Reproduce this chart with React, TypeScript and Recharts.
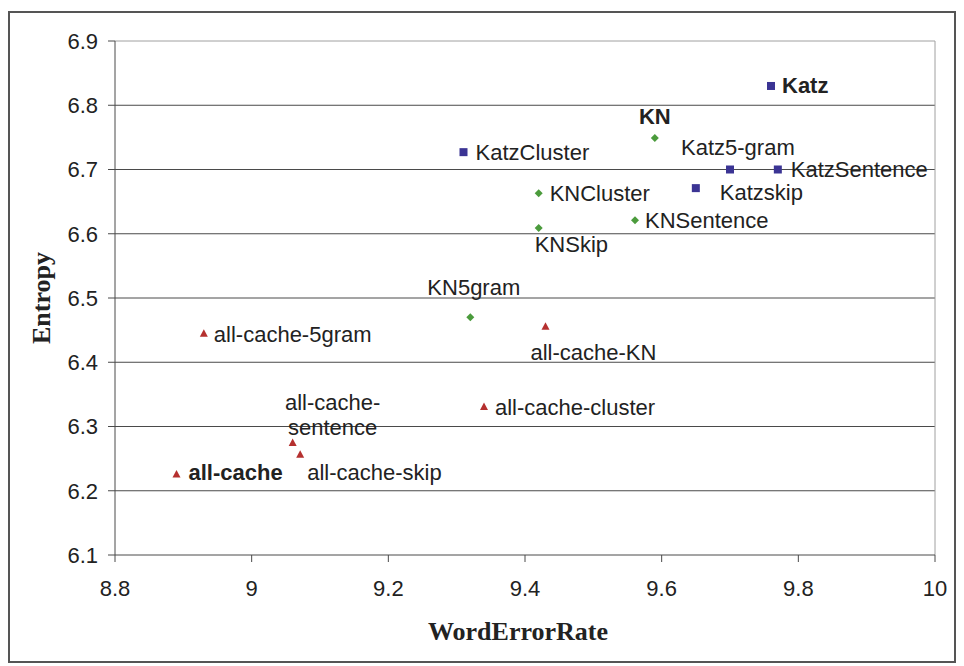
import React from "react";
import {
  CartesianGrid,
  Label,
  ReferenceLine,
  Scatter,
  ScatterChart,
  XAxis,
  YAxis,
} from "recharts";

// Katz-smoothed models
const katzNames = ["Katz", "KatzCluster", "Katz5-gram", "KatzSentence", "Katzskip"];
const katzWer = [9.76, 9.31, 9.7, 9.77, 9.65];
const katzEntropy = [6.83, 6.727, 6.7, 6.7, 6.671];

// Kneser-Ney models
const knNames = ["KN", "KNCluster", "KNSentence", "KNSkip", "KN5gram"];
const knWer = [9.59, 9.42, 9.561, 9.42, 9.32];
const knEntropy = [6.749, 6.663, 6.621, 6.609, 6.47];

// cache models
const cacheNames = [
  "all-cache",
  "all-cache-sentence",
  "all-cache-skip",
  "all-cache-5gram",
  "all-cache-KN",
  "all-cache-cluster",
];
const cacheWer = [8.89, 9.06, 9.071, 8.93, 9.43, 9.34];
const cacheEntropy = [6.226, 6.275, 6.257, 6.445, 6.456, 6.331];

const xTicks = [8.8, 9, 9.2, 9.4, 9.6, 9.8, 10];
const yTicks = [6.1, 6.2, 6.3, 6.4, 6.5, 6.6, 6.7, 6.8, 6.9];
const gridValues = [6.2, 6.3, 6.4, 6.5, 6.6, 6.7, 6.8];

const toPoints = (names: string[], xs: number[], ys: number[]) =>
  names.map((name, i) => ({ name, wer: xs[i], entropy: ys[i] }));

const katzData = toPoints(katzNames, katzWer, katzEntropy);
const knData = toPoints(knNames, knWer, knEntropy);
const cacheData = toPoints(cacheNames, cacheWer, cacheEntropy);

// where each point's label sits, relative to its marker (cap-centre offsets)
type Spot = {
  dx: number;
  dy: number;
  anchor?: "start" | "middle";
  bold?: boolean;
  lines?: string[];
};
const labelSpots: Record<string, Spot> = {
  Katz: { dx: 11, dy: -1, bold: true },
  KatzCluster: { dx: 12, dy: 0 },
  "Katz5-gram": { dx: -49, dy: -23 },
  KatzSentence: { dx: 13, dy: -1 },
  Katzskip: { dx: 24, dy: 4 },
  KN: { dx: 0, dy: -22, anchor: "middle", bold: true },
  KNCluster: { dx: 11, dy: 0 },
  KNSentence: { dx: 10, dy: 0 },
  KNSkip: { dx: -4, dy: 16 },
  KN5gram: { dx: -43, dy: -30 },
  "all-cache": { dx: 12, dy: -2, bold: true },
  "all-cache-sentence": {
    dx: 40,
    dy: -41,
    anchor: "middle",
    lines: ["all-cache-", "sentence"],
  },
  "all-cache-skip": { dx: 7, dy: 18 },
  "all-cache-5gram": { dx: 10, dy: 1 },
  "all-cache-KN": { dx: -15, dy: 26 },
  "all-cache-cluster": { dx: 11, dy: 0 },
};

const SANS = '"Liberation Sans", Arial, sans-serif';
const SERIF = '"Liberation Serif", "Times New Roman", serif';
const TEXT = "#222";

function PointLabel({ cx, cy, name }: { cx: number; cy: number; name: string }) {
  const s = labelSpots[name] ?? { dx: 10, dy: 0 };
  const lines = s.lines ?? [name];
  return (
    <text
      x={cx + s.dx}
      y={cy + s.dy + 8}
      textAnchor={s.anchor ?? "start"}
      fontFamily={SANS}
      fontSize={22}
      fontWeight={s.bold ? 700 : 400}
      fill={TEXT}
    >
      {lines.map((l, i) => (
        <tspan key={i} x={cx + s.dx} dy={i === 0 ? 0 : 25}>
          {l}
        </tspan>
      ))}
    </text>
  );
}

const squareShape = (p: any) => (
  <g>
    <rect x={p.cx - 4} y={p.cy - 4} width={8} height={8} fill="#3b3494" />
    <PointLabel cx={p.cx} cy={p.cy} name={p.payload.name} />
  </g>
);

const diamondShape = (p: any) => (
  <g>
    <path
      d={`M${p.cx},${p.cy - 4}L${p.cx + 4},${p.cy}L${p.cx},${p.cy + 4}L${p.cx - 4},${p.cy}Z`}
      fill="#4b9b3c"
    />
    <PointLabel cx={p.cx} cy={p.cy} name={p.payload.name} />
  </g>
);

const triangleShape = (p: any) => (
  <g>
    <path
      d={`M${p.cx},${p.cy - 4}L${p.cx + 4},${p.cy + 3.5}L${p.cx - 4},${p.cy + 3.5}Z`}
      fill="#b5302f"
    />
    <PointLabel cx={p.cx} cy={p.cy} name={p.payload.name} />
  </g>
);

export default function App() {
  return (
    <div
      style={{
        position: "absolute",
        left: 0,
        top: 0,
        width: 964,
        height: 666,
        background: "#fff",
      }}
    >
      <div
        style={{
          position: "absolute",
          left: 8,
          top: 11,
          width: 948,
          height: 652,
          border: "2px solid #555",
          boxSizing: "border-box",
        }}
      />
      <div style={{ position: "absolute", left: 0, top: 0 }}>
        <ScatterChart
          width={964}
          height={666}
          margin={{ top: 41, right: 29, left: 35, bottom: 21 }}
        >
          <CartesianGrid
            horizontal
            vertical={false}
            horizontalValues={gridValues}
            stroke="#4a4a4a"
            strokeWidth={1}
          />
          <ReferenceLine y={6.9} stroke="#a0a0a0" strokeWidth={1} />
          <ReferenceLine x={10} stroke="#a0a0a0" strokeWidth={1} />
          <XAxis
            type="number"
            dataKey="wer"
            domain={[8.8, 10]}
            ticks={xTicks}
            interval={0}
            height={90}
            stroke="#4a4a4a"
            tickSize={7}
            tickMargin={18}
            tick={{ fontSize: 22, fontFamily: SANS, fill: TEXT }}
          >
            <Label
              content={(props: any) => {
                const vb = props.viewBox || {};
                return (
                  <text
                    x={vb.x + vb.width / 2 - 7}
                    y={640}
                    textAnchor="middle"
                    fontFamily={SERIF}
                    fontWeight={700}
                    fontSize={26}
                    fill={TEXT}
                  >
                    WordErrorRate
                  </text>
                );
              }}
            />
          </XAxis>
          <YAxis
            type="number"
            dataKey="entropy"
            domain={[6.1, 6.9]}
            ticks={yTicks}
            interval={0}
            width={80}
            stroke="#4a4a4a"
            tickSize={7}
            tickMargin={10}
            tick={{ fontSize: 22, fontFamily: SANS, fill: TEXT }}
          >
            <Label
              content={() => (
                <text
                  x={50}
                  y={298}
                  transform="rotate(-90 50 298)"
                  textAnchor="middle"
                  fontFamily={SERIF}
                  fontWeight={700}
                  fontSize={26}
                  fill={TEXT}
                >
                  Entropy
                </text>
              )}
            />
          </YAxis>
          <Scatter data={katzData} shape={squareShape} isAnimationActive={false} />
          <Scatter data={knData} shape={diamondShape} isAnimationActive={false} />
          <Scatter data={cacheData} shape={triangleShape} isAnimationActive={false} />
        </ScatterChart>
      </div>
    </div>
  );
}
